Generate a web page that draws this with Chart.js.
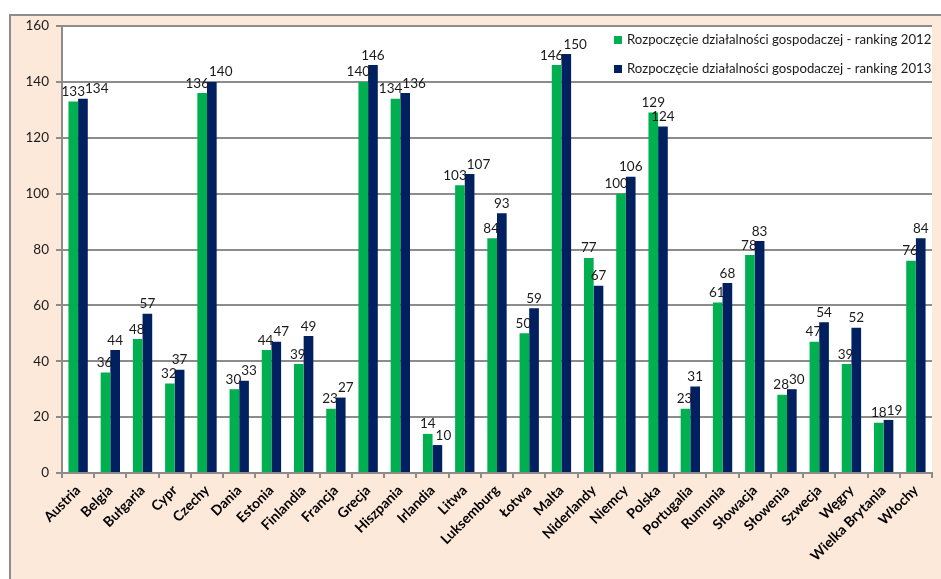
<!DOCTYPE html>
<html>
<head>
<meta charset="utf-8">
<script src="https://cdn.jsdelivr.net/npm/chart.js@4.4.0/dist/chart.umd.min.js"></script>
<style>
  html, body { margin: 0; padding: 0; background: #ffffff; }
  body { width: 941px; height: 579px; position: relative; overflow: hidden; }
  #frame { position: absolute; left: 9px; top: 14px; width: 960px; height: 600px;
           background: #FDE9D9; border-left: 2px solid #8c8c8c; border-top: 2px solid #8c8c8c; box-sizing: border-box; }
  #wrap { position: absolute; left: 0; top: 0; width: 941px; height: 579px; }
</style>
</head>
<body>
<div id="frame"></div>
<div id="wrap"><canvas id="c" width="941" height="579"></canvas></div>
<script>
const categories = ["Austria","Belgia","Bułgaria","Cypr","Czechy","Dania","Estonia","Finlandia","Francja","Grecja","Hiszpania","Irlandia","Litwa","Luksemburg","Łotwa","Malta","Niderlandy","Niemcy","Polska","Portugalia","Rumunia","Słowacja","Słowenia","Szwecja","Węgry","Wielka Brytania","Włochy"];
const ranking2012 = [133,36,48,32,136,30,44,39,23,140,134,14,103,84,50,146,77,100,129,23,61,78,28,47,39,18,76];
const ranking2013 = [134,44,57,37,140,33,47,49,27,146,136,10,107,93,59,150,67,106,124,31,68,83,30,54,52,19,84];
const seriesNames = ["Rozpoczęcie działalności gospodaczej - ranking 2012","Rozpoczęcie działalności gospodaczej - ranking 2013"];
const yTicks = [0,20,40,60,80,100,120,140,160];

const GREEN = "#00B050", NAVY = "#002060", GRID = "#8c8c8c";
const FONT = "Lato, 'Open Sans', sans-serif";

const plotBg = {
  id: "plotBg",
  beforeDraw(chart) {
    const {ctx, chartArea: a} = chart;
    ctx.save();
    ctx.fillStyle = "#ffffff";
    ctx.fillRect(a.left, a.top, a.right - a.left, a.bottom - a.top);
    ctx.restore();
  }
};

const labelsPlugin = {
  id: "valLabels",
  afterDatasetsDraw(chart) {
    const ctx = chart.ctx;
    ctx.save();
    ctx.font = "13.5px " + FONT;
    ctx.fillStyle = "#1a1a1a";
    ctx.textAlign = "center";
    ctx.textBaseline = "bottom";
    const m0 = chart.getDatasetMeta(0), m1 = chart.getDatasetMeta(1);
    const d0 = chart.data.datasets[0].data, d1 = chart.data.datasets[1].data;
    for (let i = 0; i < d0.length; i++) {
      const b0 = m0.data[i], b1 = m1.data[i];
      const t0 = String(d0[i]), t1 = String(d1[i]);
      const w0 = ctx.measureText(t0).width, w1 = ctx.measureText(t1).width;
      const y0 = b0.y - 3, y1 = b1.y - 3;
      let x0 = b0.x, x1 = b1.x;
      const navyLeft = b1.x - b1.width / 2;
      // green label would sit on the taller navy bar: move it left
      if (b1.y < y0 - 2 && x0 + w0 / 2 > navyLeft + 2) x0 = navyLeft + 2 - w0 / 2;
      const overlapX = (x0 + w0 / 2) - (x1 - w1 / 2);
      if (overlapX > 0 && Math.abs(y0 - y1) < 13) x1 += overlapX;
      ctx.fillText(t0, x0, y0);
      ctx.fillText(t1, x1, y1);
    }
    ctx.restore();
  }
};

const legendPlugin = {
  id: "boxLegend",
  afterDraw(chart) {
    const ctx = chart.ctx;
    const a = chart.chartArea;
    ctx.save();
    const x0 = 605, y0 = a.top + 2, w = a.right - x0, h = 53;
    ctx.fillStyle = "#ffffff";
    ctx.fillRect(x0, y0, w, h);
    ctx.font = "13.2px " + FONT;
    ctx.textBaseline = "middle";
    ctx.textAlign = "left";
    const rows = [40, 69];
    chart.data.datasets.forEach((ds, i) => {
      ctx.fillStyle = ds.backgroundColor;
      ctx.fillRect(614, rows[i] - 4, 8, 8);
      ctx.fillStyle = "#1a1a1a";
      ctx.fillText(ds.label, 627, rows[i]);
    });
    ctx.restore();
  }
};

new Chart(document.getElementById("c"), {
  type: "bar",
  data: {
    labels: categories,
    datasets: [
      { label: seriesNames[0], data: ranking2012, backgroundColor: GREEN, borderWidth: 0 },
      { label: seriesNames[1], data: ranking2013, backgroundColor: NAVY, borderWidth: 0 }
    ]
  },
  options: {
    responsive: false,
    animation: false,
    devicePixelRatio: 1,
    layout: { padding: { left: 0, top: 26, right: 9, bottom: 0 } },
    datasets: { bar: { categoryPercentage: 0.6, barPercentage: 1.0 } },
    plugins: { legend: { display: false }, tooltip: { enabled: false } },
    scales: {
      x: {
        grid: { display: true, drawOnChartArea: false, drawTicks: true, tickLength: 5, color: GRID, lineWidth: 2 },
        border: { display: true, color: GRID, width: 2 },
        ticks: { maxRotation: 45, minRotation: 45, autoSkip: false, padding: 4,
                 font: { family: FONT, size: 14, weight: "bold" }, color: "#000" },
        afterFit(s) { s.height = 106; }
      },
      y: {
        min: 0, max: 160,
        afterBuildTicks(s) { s.ticks = yTicks.map(v => ({ value: v })); },
        grid: { color: GRID, lineWidth: 2, drawTicks: true, tickLength: 6 },
        border: { display: true, color: GRID, width: 2 },
        ticks: { padding: 7, font: { family: FONT, size: 13.5 }, color: "#1a1a1a" },
        afterFit(s) { s.width = 62; }
      }
    }
  },
  plugins: [plotBg, labelsPlugin, legendPlugin]
});
</script>
</body>
</html>
